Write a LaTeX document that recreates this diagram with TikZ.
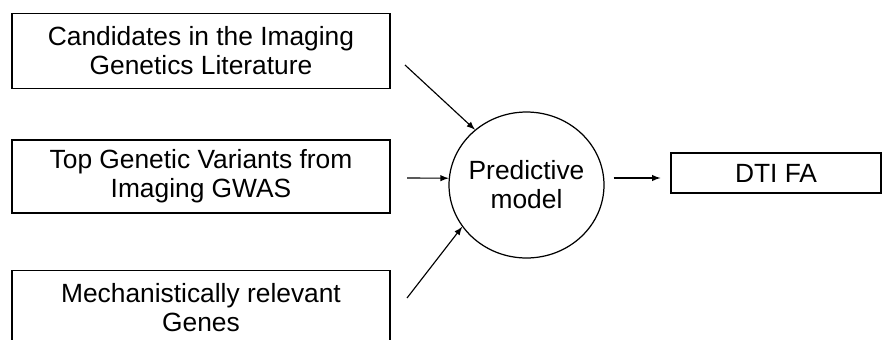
\documentclass[tikz,border=0pt]{standalone}
\usepackage{fontspec}
\setmainfont{Liberation Sans}
\usetikzlibrary{shapes.geometric}

\begin{document}
\begin{tikzpicture}[x=0.02cm, y=-0.02cm, every node/.style={font=\fontsize{15}{16.5}\selectfont}]
        % Common Styles
        \tikzset{arr/.style={-latex, line width=0.65pt}}
        \tikzset{source/.style={draw, rectangle, line width=0.7pt, minimum width=7.56cm, minimum height=1.5cm, align=center, inner sep=0pt}}
        \tikzset{model/.style={draw, ellipse, line width=0.7pt, minimum width=3.1cm, minimum height=2.92cm, align=center, inner xsep=-2pt, inner ysep=0pt}}
        \tikzset{outcome/.style={draw, rectangle, line width=0.7pt, minimum width=4.2cm, minimum height=0.8cm, inner sep=0pt}}

        % Frame
        \useasboundingbox (0, 0) rectangle (884, 339);
        \clip (0, 0) rectangle (884, 339);

        % 1. Inputs
        \node[source] (cand) at (201, 51) {Candidates in the Imaging\\Genetics Literature};
        \node[source, minimum height=1.46cm] (gwas) at (201, 176.5) {Top Genetic Variants from\\Imaging GWAS};
        \node[source] (mech) at (201, 308) {Mechanistically relevant\\Genes};

        % 2. Model and outcome
        \node[model] (pred) at (526.5, 185) {Predictive\\model};
        \node[outcome] (dti) at (776, 173) {DTI FA};

        % 3. Connectors
        \coordinate (c1) at (405, 65);
        \coordinate (c2) at (407, 178);
        \coordinate (c3) at (407, 298);
        \draw[arr] (c1) -- (pred.133);
        \draw[arr] (c2) -- (pred.175);
        \draw[arr] (c3) -- (pred.213);
        \draw[arr, shorten <=0.18cm, shorten >=0.2cm] (pred.east |- 0, 178) -- (dti.west |- 0, 178);
    \end{tikzpicture}
\end{document}
